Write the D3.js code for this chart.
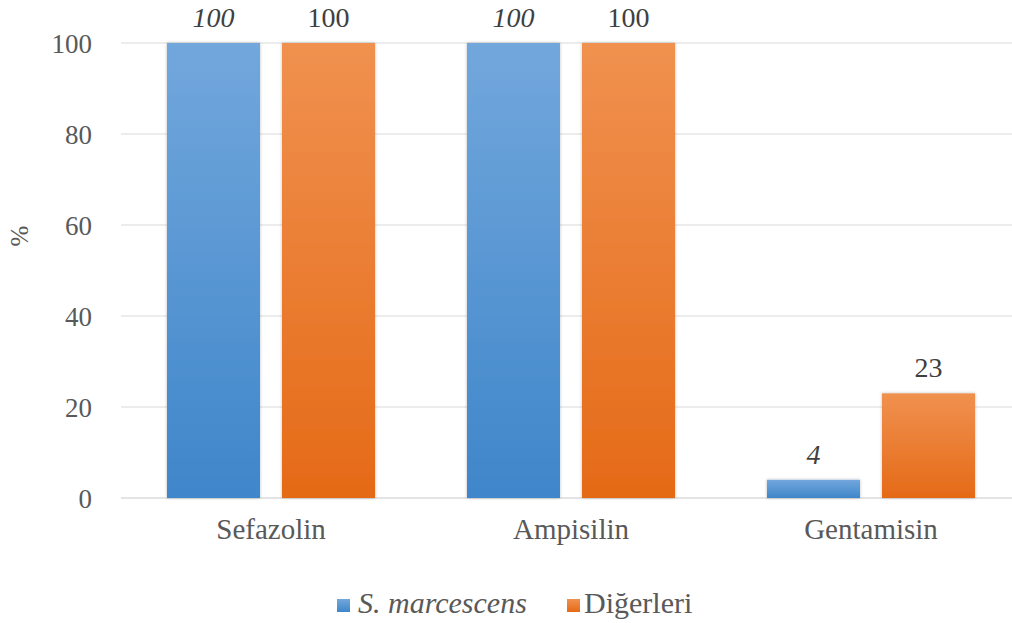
<!DOCTYPE html>
<html>
<head>
<meta charset="utf-8">
<script src="https://cdn.jsdelivr.net/npm/d3@7/dist/d3.min.js"></script>
<style>
  html, body { margin: 0; padding: 0; background: #fff; }
  svg { display: block; font-family: "Liberation Serif", "Times New Roman", serif; }
</style>
</head>
<body>
<svg id="chart" width="1012" height="623"></svg>
<script>
// Resistance rates (%) per antibiotic
const categories = ["Sefazolin", "Ampisilin", "Gentamisin"];
const seriesNames = ["S. marcescens", "Diğerleri"];
const marcescensValues = [100, 100, 4];
const digerleriValues = [100, 100, 23];
const yTicks = [0, 20, 40, 60, 80, 100];

const seriesValues = [marcescensValues, digerleriValues];
const seriesItalic = [true, false];

const svg = d3.select("#chart");
const W = 1012, H = 623;
const FONT = "'Liberation Serif', 'Times New Roman', serif";

const x0 = d3.scaleBand().domain(categories).range([121, 1021]).paddingInner(0).paddingOuter(0);
const x1 = d3.scaleBand().domain(d3.range(seriesNames.length)).range([46, 254]).paddingInner(0.191).paddingOuter(0);
const y = d3.scaleLinear().domain([0, 100]).range([498, 43]);

// gradients and soft shadow
const defs = svg.append("defs");
const gradStops = [
  [["0%", "#72a7dc"], ["100%", "#3f86ca"]],
  [["0%", "#f0914f"], ["100%", "#e56a17"]]
];
gradStops.forEach((stops, i) => {
  const g = defs.append("linearGradient").attr("id", "grad" + i)
    .attr("x1", 0).attr("y1", 0).attr("x2", 0).attr("y2", 1);
  stops.forEach(s => g.append("stop").attr("offset", s[0]).attr("stop-color", s[1]));
});
const f = defs.append("filter").attr("id", "shadow")
  .attr("x", "-20%").attr("y", "-20%").attr("width", "140%").attr("height", "140%");
f.append("feDropShadow").attr("dx", 0).attr("dy", 0).attr("stdDeviation", 1.6)
  .attr("flood-color", "#000").attr("flood-opacity", 0.28);

// gridlines
svg.append("g").attr("class", "grid")
  .selectAll("line").data(yTicks).join("line")
  .attr("x1", 121).attr("x2", W)
  .attr("y1", d => y(d)).attr("y2", d => y(d))
  .attr("stroke", d => d === 0 ? "#c8c8c8" : "#d9d9d9")
  .attr("stroke-width", 1);

// y-axis tick labels
const yAxis = d3.axisLeft(y).tickValues(yTicks).tickSize(0).tickPadding(0);
const ya = svg.append("g").attr("transform", "translate(92,0)").call(yAxis);
ya.select(".domain").remove();
ya.attr("font-family", FONT);
ya.selectAll("text")
  .attr("font-size", 27).attr("fill", "#595959").attr("dy", "0.34em");

// y-axis title
svg.append("text")
  .attr("transform", "translate(28,236) rotate(-90)")
  .attr("text-anchor", "middle")
  .attr("font-size", 25).attr("fill", "#595959")
  .text("%");

// bars
const groups = svg.append("g").selectAll("g").data(categories).join("g")
  .attr("transform", d => `translate(${x0(d)},0)`);

groups.selectAll("rect")
  .data((c, ci) => seriesValues.map((vals, si) => ({ si, v: vals[ci] })))
  .join("rect")
  .attr("x", d => x1(d.si))
  .attr("width", x1.bandwidth())
  .attr("y", d => y(d.v))
  .attr("height", d => y(0) - y(d.v))
  .attr("fill", d => `url(#grad${d.si})`)
  .attr("filter", "url(#shadow)");

// value labels
groups.selectAll("text.val")
  .data((c, ci) => seriesValues.map((vals, si) => ({ si, v: vals[ci] })))
  .join("text").attr("class", "val")
  .attr("x", d => x1(d.si) + x1.bandwidth() / 2)
  .attr("y", d => y(d.v) - 16)
  .attr("text-anchor", "middle")
  .attr("font-size", 28)
  .attr("font-style", d => seriesItalic[d.si] ? "italic" : "normal")
  .attr("fill", "#404040")
  .text(d => d.v);

// category labels
const xAxis = d3.axisBottom(x0).tickSize(0).tickPadding(0);
const xa = svg.append("g").attr("transform", "translate(0,539)").call(xAxis);
xa.select(".domain").remove();
xa.attr("font-family", FONT);
xa.selectAll("text")
  .attr("font-size", 29).attr("fill", "#595959").attr("dy", 0)
  .attr("textLength", null);

// legend
const legendItems = [
  { si: 0, x: 337, textX: 358 },
  { si: 1, x: 567, textX: 584 }
];
const leg = svg.append("g");
legendItems.forEach(it => {
  leg.append("rect").attr("x", it.x).attr("y", 599).attr("width", 13).attr("height", 13)
    .attr("fill", `url(#grad${it.si})`);
  leg.append("text").attr("x", it.textX).attr("y", 613)
    .attr("font-size", 30)
    .attr("font-style", seriesItalic[it.si] ? "italic" : "normal")
    .attr("fill", "#595959")
    .text(seriesNames[it.si]);
});
</script>
</body>
</html>
